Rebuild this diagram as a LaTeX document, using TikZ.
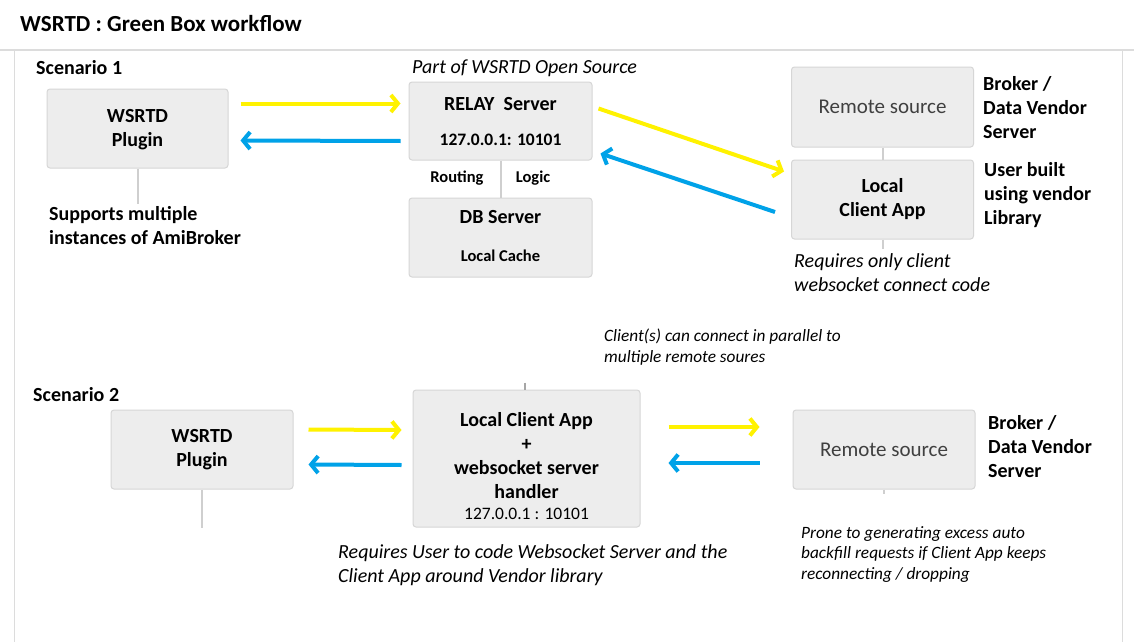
\documentclass[tikz,border=0pt]{standalone}
\usepackage{fontspec}
\setmainfont{Carlito}
\usetikzlibrary{arrows.meta,calc}
\definecolor{boxfill}{HTML}{EDEDED}
\definecolor{boxline}{HTML}{D6D6D6}
\definecolor{conn}{HTML}{CFCFCF}
\definecolor{framec}{HTML}{DCDCDC}
\definecolor{ylw}{HTML}{FFF200}
\definecolor{blu}{HTML}{00A2E8}
\definecolor{rsrc}{HTML}{404040}
\begin{document}
\begin{tikzpicture}[x=1pt,y=-1pt,
  box/.style={draw=boxline,fill=boxfill,rounded corners=3pt,line width=1pt,inner sep=0pt},
  bt/.style={font=\fontsize{20}{24}\selectfont\bfseries,align=center,inner sep=0pt},
  st/.style={font=\fontsize{16.5}{20}\selectfont\bfseries,inner sep=0pt},
  note/.style={font=\fontsize{20}{24}\selectfont\itshape,align=left,inner sep=0pt,anchor=west},
  snote/.style={font=\fontsize{17.3}{20.5}\selectfont\itshape,align=left,inner sep=0pt,anchor=west},
  side/.style={font=\fontsize{20}{24}\selectfont\bfseries,align=left,inner sep=0pt,anchor=west},
  rtext/.style={font=\fontsize{21}{24}\selectfont,text=rsrc,inner sep=0pt},
  yarr/.style={draw=ylw,line width=4pt,-{Straight Barb[length=7pt,width=17pt]}},
  barr/.style={draw=blu,line width=4pt,-{Straight Barb[length=7pt,width=17pt]}},
  cline/.style={draw=conn,line width=2pt},
  framel/.style={draw=framec,line width=1.5pt}
]
\useasboundingbox (0,0) rectangle (1134,642);
\fill[white] (0,0) rectangle (1134,642);

% frame
\coordinate (fl0) at (0,50);
\coordinate (fr0) at (1134,50);
\draw[framel] (fl0) -- (fr0);
\coordinate (lv0) at (14.5,50);
\coordinate (lv1) at (14.5,642);
\draw[framel] (lv0) -- (lv1);
\coordinate (rv0) at (1122.5,50);
\coordinate (rv1) at (1122.5,642);
\draw[framel] (rv0) -- (rv1);

\node[anchor=west,inner sep=0pt,font=\fontsize{23}{26}\selectfont\bfseries] (title) at (20,24) {WSRTD : Green Box workflow};

% ---------- Scenario 1 ----------
\node[anchor=west,inner sep=0pt,font=\fontsize{20}{22}\selectfont\bfseries] (sc1) at (36,68) {Scenario 1};

\node[box,minimum width=181pt,minimum height=79pt] (p1) at (137.5,128.5) {};
\node[bt] (p1t) at (137.5,130) {WSRTD\\Plugin};

\node[box,minimum width=183pt,minimum height=78pt] (relay) at (500.5,121) {};
\node[bt] (relayt) at (500.5,104) {RELAY\ \ Server};
\node[st,font=\fontsize{17.5}{20}\selectfont\bfseries] (relayip) at (500.5,140) {127.0.0.1: 10101};
\node[note] (part) at (412,68) {Part of WSRTD Open Source};

\node[box,minimum width=183pt,minimum height=79pt] (db) at (500.5,237.5) {};
\node[bt] (dbt) at (500.5,217) {DB Server};
\node[st] (dbc) at (500.5,255.5) {Local Cache};
\node[st] (rout) at (457,178) {Routing};
\node[st] (logic) at (533,178) {Logic};

\node[box,minimum width=182pt,minimum height=80pt] (rs1) at (882.5,107) {};
\node[rtext] (rs1t) at (882.5,107) {Remote source};
\node[box,minimum width=182pt,minimum height=79pt] (lca) at (882.5,199.5) {};
\node[bt] (lcat) at (882.5,199.5) {Local\\Client App};

\node[side] (brk1) at (983,107.5) {Broker /\\Data Vendor\\Server};
\node[side] (ub) at (984,195) {User built\\using vendor\\Library};
\node[note] (req1) at (794,272.5) {Requires only client\\websocket connect code};

\node[side] (sup) at (49,225.5) {Supports multiple\\instances of AmiBroker};

% connectors scenario 1
\coordinate (p1end) at ($(p1.south)+(0,35)$);
\draw[cline] (p1.south) -- (p1end);
\draw[cline] (relay.south) -- (db.north);
\draw[cline] (rs1.south) -- (lca.north);
\coordinate (lcaend) at ($(lca.south)+(0,9)$);
\draw[cline] (lca.south) -- (lcaend);

\draw[yarr] ($(p1.north east)+(12,15)$) -- ($(relay.north west)+(-8,22)$);
\draw[barr] ($(relay.west)+(-8,20)$) -- ($(p1.north east)+(12,52)$);
\draw[yarr] ($(relay.north east)+(6,27)$) -- ($(lca.north west)+(-7,12)$);
\draw[barr] ($(lca.west)+(-16,12.5)$) -- ($(relay.south east)+(8,-7)$);

\node[snote] (par) at (604,347) {Client(s) can connect in parallel to\\multiple remote soures};

% ---------- Scenario 2 ----------
\node[anchor=west,inner sep=0pt,font=\fontsize{20}{22}\selectfont\bfseries] (sc2) at (33,395) {Scenario 2};

\node[box,minimum width=182pt,minimum height=79pt] (p2) at (202,449.5) {};
\node[bt] (p2t) at (202,450) {WSRTD\\Plugin};

\node[box,minimum width=227pt,minimum height=137pt] (lca2) at (526.5,458.5) {};
\node[bt] (lca2t) at (526.5,456) {Local Client App\\+\\websocket server\\handler};
\node[font=\fontsize{17.5}{20}\selectfont,inner sep=0pt] (lca2ip) at (526.5,514) {127.0.0.1 : 10101};

\node[box,minimum width=182pt,minimum height=79pt] (rs2) at (884,449.5) {};
\node[rtext] (rs2t) at (884,449.5) {Remote source};
\node[side] (brk2) at (988,446.5) {Broker /\\Data Vendor\\Server};

\node[note] (req2) at (338,565.5) {Requires User to code Websocket Server and the\\Client App around Vendor library};
\node[snote] (prone) at (801,554) {Prone to generating excess auto\\backfill requests if Client App keeps\\reconnecting / dropping};

% connectors scenario 2
\coordinate (p2end) at ($(p2.south)+(0,38)$);
\draw[cline] (p2.south) -- (p2end);
\coordinate (lca2top) at ($(lca2.north)+(-2,-7)$);
\draw[draw=gray!70,line width=2pt] (lca2top) -- ($(lca2.north)+(-2,0)$);
\coordinate (rs2end) at ($(rs2.south)+(0,4)$);
\draw[cline] (rs2.south) -- (rs2end);

\draw[yarr] ($(p2.north east)+(15,20)$) -- ($(lca2.west)+(-11,-28.5)$);
\draw[barr] ($(lca2.west)+(-11,6.5)$) -- ($(p2.north east)+(15,55)$);
\draw[yarr] ($(lca2.east)+(28,-31.5)$) -- ($(rs2.west)+(-33,-22.5)$);
\draw[barr] ($(rs2.west)+(-33,13.5)$) -- ($(lca2.east)+(28,4.5)$);
\end{tikzpicture}
\end{document}
